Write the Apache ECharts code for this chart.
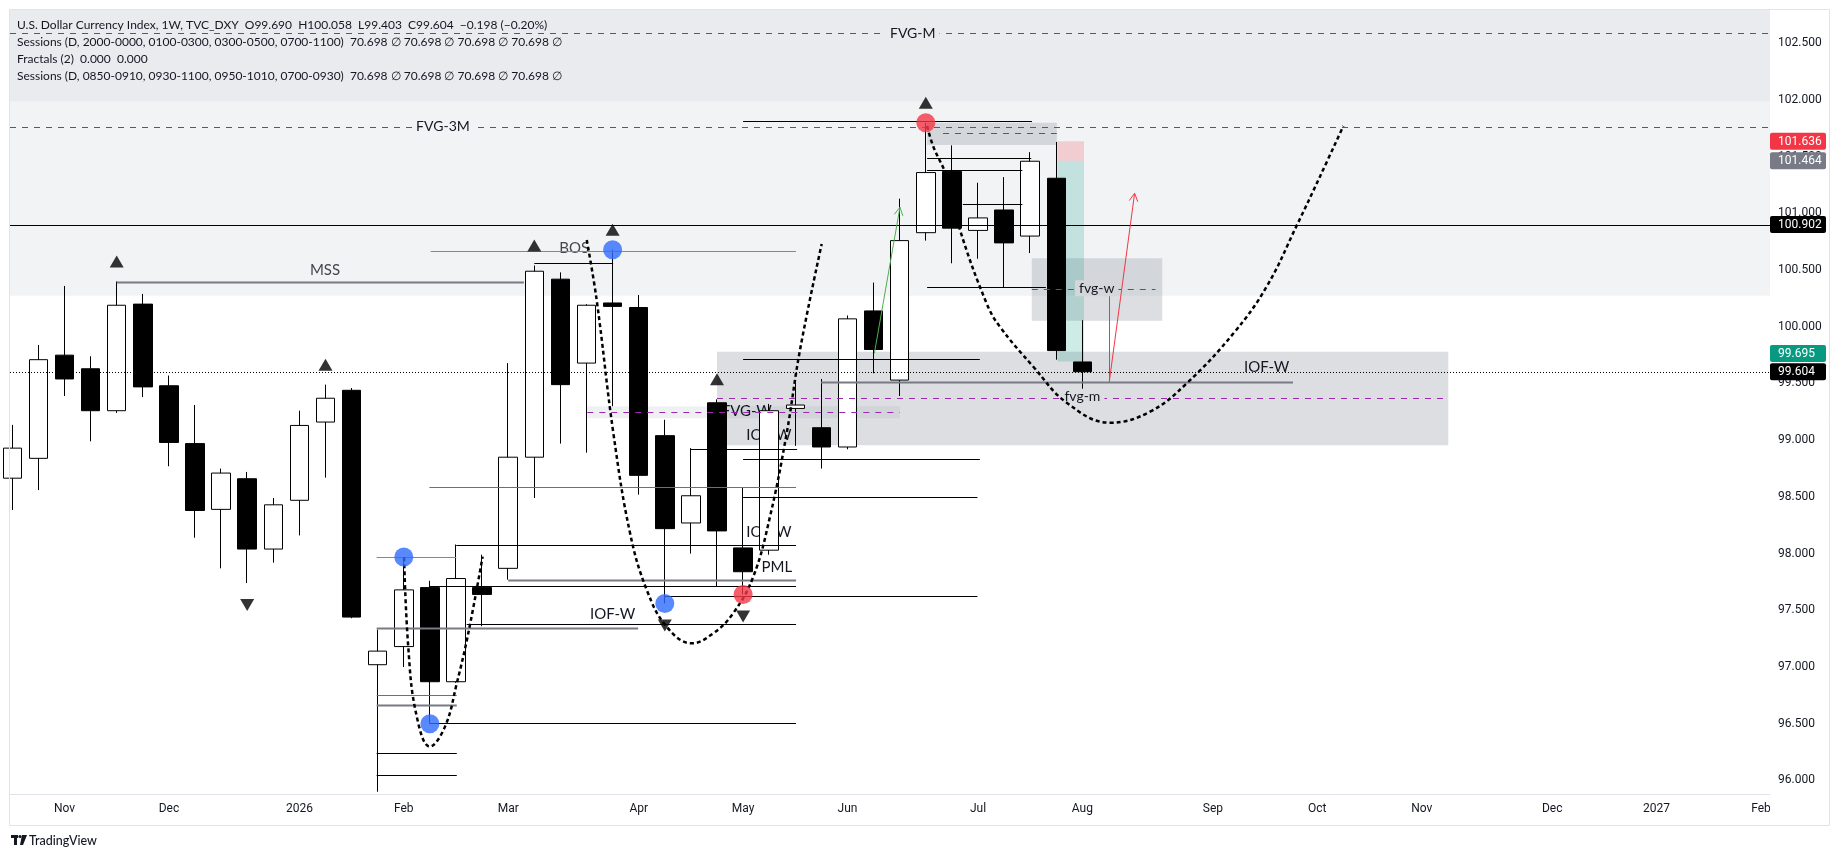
<!DOCTYPE html>
<html><head><meta charset="utf-8">
<script src="https://cdn.jsdelivr.net/npm/echarts@6/dist/echarts.min.js"></script>
<style>html,body{margin:0;padding:0;background:#fff;}#c{width:1840px;height:858px;}</style>
</head><body><div id="c"></div><script>
// ---------- data (week index 0 = 2025-10-20) ----------
const weeks = ['2025-10-20','2025-10-27','2025-11-03','2025-11-10','2025-11-17','2025-11-24','2025-12-01','2025-12-08','2025-12-15','2025-12-22','2025-12-29','2026-01-05','2026-01-12','2026-01-19','2026-01-26','2026-02-02','2026-02-09','2026-02-16','2026-02-23','2026-03-02','2026-03-09','2026-03-16','2026-03-23','2026-03-30','2026-04-06','2026-04-13','2026-04-20','2026-04-27','2026-05-04','2026-05-11','2026-05-18','2026-05-25','2026-06-01','2026-06-08','2026-06-15','2026-06-22','2026-06-29','2026-07-06','2026-07-13','2026-07-20','2026-07-27','2026-08-03'];
const opens  = [98.665,98.84,99.75,99.63,99.26,100.20,99.48,98.97,98.39,98.66,98.04,98.47,99.16,99.44,97.02,97.18,97.70,96.87,97.70,97.87,98.85,100.42,99.68,100.21,100.17,99.04,98.27,99.33,98.05,98.03,99.28,99.11,98.94,100.14,99.53,100.83,101.37,100.85,101.03,100.80,101.31,99.690];
const highs  = [99.135,99.84,100.36,99.74,100.40,100.29,99.57,99.31,98.75,98.72,98.49,99.26,99.49,99.46,97.33,97.97,97.76,98.08,97.99,99.68,100.54,100.48,100.20,100.68,100.28,99.18,98.93,99.36,98.58,99.32,99.51,99.54,100.10,100.39,101.13,101.80,101.60,101.27,101.32,101.54,101.63,100.058];
const lows   = [98.385,98.56,99.39,98.99,99.24,99.38,98.77,98.14,97.87,97.74,97.92,98.16,98.67,97.43,95.90,97.00,96.50,96.86,97.36,97.77,98.49,98.97,98.89,99.30,98.52,97.56,98.00,97.71,97.64,97.99,98.95,98.75,98.92,99.59,99.39,100.76,100.56,100.60,100.35,100.65,99.71,99.403];
const closes = [98.93,99.71,99.54,99.26,100.19,99.47,98.98,98.38,98.71,98.04,98.43,99.13,99.37,97.44,97.14,97.68,96.87,97.78,97.64,98.85,100.49,99.49,100.19,100.18,98.69,98.22,98.51,98.20,97.84,99.26,99.31,98.94,100.07,99.80,100.76,101.36,100.87,100.96,100.74,101.46,99.79,99.604];

const monthIdx    = [2,6,11,15,19,24,28,32,37,41,46,50,54,59,63,67];
const monthLabels = ['Nov','Dec','2026','Feb','Mar','Apr','May','Jun','Jul','Aug','Sep','Oct','Nov','Dec','2027','Feb'];
const yTicks = [96,96.5,97,97.5,98,98.5,99,99.5,100,100.5,101,101.5,102,102.5];

const fractalUp   = [4,12,20,23,27,35];
const fractalDown = [9,25,28];
const blueDotsHigh = [15,23];
const blueDotsLow  = [16,25];
const redDotsHigh  = [35];
const redDotsLow   = [28];

const XMIN = -0.0881, XMAX = 67.345, YMIN = 95.8755, YMAX = 102.8025;

// boxes: [x1, x2, priceTop, priceBottom]
const darkBands  = [[XMIN, XMAX, YMAX, 101.985]];
const lightBands = [[XMIN, XMAX, 101.985, 100.274]];
const grayBoxes  = [[35.05,40.02,101.80,101.603],[27.0,55.02,99.78,98.955],[39.06,44.06,100.604,100.054]];
const faintBoxes = [[22.03,34.0,99.30,99.193]];
const tealBoxes  = [[40.04,41.06,101.464,99.695]];
const pinkBoxes  = [[40.04,41.06,101.636,101.464]];

// segments: [x1, p1, x2, p2]
const blackLines = [
  [XMIN,100.902,XMAX,100.902],[20,100.56,23.02,100.56],[17.01,98.077,30.03,98.077],[17.41,97.376,30.03,97.376],
  [16.0,96.504,30.03,96.504],[13.96,96.239,17.03,96.239],[13.96,96.045,17.03,96.045],[16.0,97.713,30.03,97.713],
  [25.0,97.63,36.98,97.63],[28.0,99.713,37.07,99.713],[28.0,98.832,37.07,98.832],[28.0,98.497,36.98,98.497],
  [26.0,98.92,30.07,98.92],[28.0,101.817,39.07,101.817],[35.05,101.492,39.04,101.492],[35.05,101.383,38.7,101.383],
  [36.42,101.08,38.7,101.08],[35.05,100.348,39.6,100.348]
];
const grayLines = [[4,100.396,19.6,100.396],[13.96,97.347,23.98,97.347],[13.96,96.666,17.03,96.666],[19.0,97.768,30.03,97.768],[30.99,99.513,49.07,99.513]];
const redLines = [[15.98,98.586,30.03,98.586],[13.96,96.754,17.03,96.754],[42.03,100.31,42.03,99.515]];
const greenLines = [[16.03,100.669,30.03,100.669],[13.96,97.968,17.01,97.968]];
const purpleLines = [[XMIN,102.589,XMAX,102.589],[XMIN,101.765,XMAX,101.765],[35.66,101.707,40.02,101.707],[39.06,100.332,43.8,100.332],[22.03,99.249,34.0,99.249],[27.0,99.375,55.02,99.375]];
const priceLine = [[XMIN,99.604,XMAX,99.604]];
const redArrows = [[42.03,99.515,43.0,101.177]];
const greenArrows = [[33.03,99.766,34.01,101.054]];

// dotted projection curves: [week index, price]
const curveA = [[15.01,97.967],[15.17,97.179],[15.47,96.592],[16.0,96.297],[16.58,96.474],[17.03,96.856],[17.47,97.297],[18.02,97.973]];
const curveB = [[22.01,100.766],[22.39,100.236],[23.03,99.061],[23.67,98.179],[24.31,97.679],[25.07,97.355],[26.03,97.209],[26.86,97.297],[27.62,97.474],[28.39,97.796],[29.03,98.325],[29.67,99.061],[30.18,99.796],[31.01,100.73]];
const curveC = [[35.05,101.77],[35.29,101.588],[35.8,101.324],[36.31,100.854],[37.33,100.207],[37.84,100.0],[39.12,99.648],[40.4,99.33],[42.06,99.154],[43.59,99.251],[45.0,99.502],[46.79,99.943],[48.06,100.354],[49.21,100.892],[50.1,101.324],[51.0,101.771]];

// text labels: [week index, price, text]
const grayTexts = [[11.98,100.50,'MSS'],[21.53,100.69,'BOS']];
const darkTexts = [[23.0,97.465,'IOF-W'],[28.14,99.26,'FVG-W'],[28.99,99.046,'IOF-W'],[28.99,98.193,'IOF-W'],[29.29,97.884,'PML'],[48.06,99.64,'IOF-W']];
const tagTexts = [[34.5,102.589,'FVG-M'],[16.5,101.765,'FVG-3M'],[41.0,99.384,'fvg-m'],[41.55,100.34,'fvg-w']];
const tagTextBg = ['#eaebef','#f2f3f5','#dcdee2','#d4d6d9'];

const priceTags = [101.636,101.464,100.902,99.695,99.604];
const priceTagColors = ['#f23645','#787b86','#000000','#089981','#000000'];
const priceTagShift = [0,0,0,-8,0];

const legendLines = [
  'U.S. Dollar Currency Index, 1W, TVC_DXY  O99.690  H100.058  L99.403  C99.604  \u22120.198 (\u22120.20%)',
  'Sessions (D, 2000-0000, 0100-0300, 0300-0500, 0700-1100)  70.698 \u2205 70.698 \u2205 70.698 \u2205 70.698 \u2205',
  'Fractals (2)  0.000  0.000',
  'Sessions (D, 0850-0910, 0930-1100, 0950-1010, 0700-0930)  70.698 \u2205 70.698 \u2205 70.698 \u2205 70.698 \u2205'
];

// ---------- helpers ----------
const crisp = v => Math.round(v) + 0.5;
function boxSeries(arr, fill, z) {
  return { type:'custom', z, silent:true, animation:false, clip:false,
    data: arr.map(d => [d[0], d[2]]),
    renderItem(params, api) {
      const d = arr[params.dataIndex];
      const a = api.coord([d[0], d[2]]), b = api.coord([d[1], d[3]]);
      return { type:'rect', shape:{ x:a[0], y:a[1], width:b[0]-a[0], height:b[1]-a[1] }, style:{ fill } };
    } };
}
function segSeries(arr, style, z) {
  return { type:'custom', z, silent:true, animation:false, clip:false,
    data: arr.map(d => [d[0], d[1]]),
    renderItem(params, api) {
      const d = arr[params.dataIndex];
      const a = api.coord([d[0], d[1]]), b = api.coord([d[2], d[3]]);
      let x1=a[0], y1=a[1], x2=b[0], y2=b[1];
      if (Math.abs(y1-y2) < 0.01) { y1 = y2 = crisp(y1); }
      if (Math.abs(x1-x2) < 0.01) { x1 = x2 = crisp(x1); }
      return { type:'line', shape:{ x1, y1, x2, y2 }, style: Object.assign({ fill:null }, style) };
    } };
}
function arrowSeries(arr, color, z) {
  return { type:'custom', z, silent:true, animation:false, clip:false,
    data: arr.map(d => [d[0], d[1]]),
    renderItem(params, api) {
      const d = arr[params.dataIndex];
      const a = api.coord([d[0], d[1]]), b = api.coord([d[2], d[3]]);
      const ang = Math.atan2(b[1]-a[1], b[0]-a[0]);
      const L = 9, w = 0.5;
      const p1 = [b[0]-L*Math.cos(ang-w), b[1]-L*Math.sin(ang-w)];
      const p2 = [b[0]-L*Math.cos(ang+w), b[1]-L*Math.sin(ang+w)];
      return { type:'group', children:[
        { type:'line', shape:{ x1:a[0], y1:a[1], x2:b[0], y2:b[1] }, style:{ stroke:color, lineWidth:1 } },
        { type:'polyline', shape:{ points:[p1, b, p2] }, style:{ stroke:color, lineWidth:1, fill:null } }
      ] };
    } };
}
function textSeries(arr, color, size, z, bgs) {
  return { type:'custom', z, silent:true, animation:false, clip:false,
    data: arr.map(d => [d[0], d[1]]),
    renderItem(params, api) {
      const d = arr[params.dataIndex];
      const p = api.coord([d[0], d[1]]);
      const st = { text:d[2], fill:color, fontSize:size, fontFamily:'Lato, "Noto Sans", sans-serif', align:'center', verticalAlign:'middle' };
      if (bgs) { st.backgroundColor = bgs[params.dataIndex]; st.padding = [1,4]; }
      return { type:'text', x:p[0], y:p[1], style: st };
    } };
}
function curveSeries(pts) {
  return { type:'line', data:pts, smooth:0.4, showSymbol:false, symbol:'none', z:6, silent:true, animation:false, clip:false,
    lineStyle:{ color:'#000', width:2.5, type:[4,3] } };
}

const candleData = closes.map((c,i) => [i, opens[i], c, lows[i], highs[i]]);
const legendFont = { fill:'#131722', fontSize:12, fontFamily:'Lato, sans-serif', verticalAlign:'middle' };

const chart = echarts.init(document.getElementById('c'), null, { renderer:'canvas' });
chart.setOption({
  animation:false,
  backgroundColor:'#ffffff',
  grid:{ left:10, right:70, top:9, bottom:63.5, containLabel:false },
  xAxis:{ type:'value', min:XMIN, max:XMAX, scale:true,
    axisLine:{ show:true, lineStyle:{ color:'#e0e3eb' } }, axisTick:{ show:false }, splitLine:{ show:false },
    axisLabel:{ customValues: monthIdx, margin:8, color:'#131722', fontSize:12, fontFamily:'Roboto, sans-serif',
      formatter: v => monthLabels[monthIdx.indexOf(Math.round(v))] || '' } },
  yAxis:{ type:'value', position:'right', min:YMIN, max:YMAX, scale:true,
    axisLine:{ show:false }, axisTick:{ show:false }, splitLine:{ show:false },
    axisLabel:{ customValues: yTicks, margin:8, color:'#131722', fontSize:12, fontFamily:'Roboto, sans-serif',
      formatter: v => Number(v).toFixed(3) } },
  series:[
    boxSeries(darkBands, '#eaebef', 1),
    boxSeries(lightBands, '#f2f3f5', 1),
    boxSeries(faintBoxes, 'rgba(150,155,168,0.15)', 1.2),
    boxSeries(grayBoxes, 'rgba(150,155,168,0.33)', 1.3),
    boxSeries(tealBoxes, 'rgba(8,153,129,0.2)', 1.4),
    boxSeries(pinkBoxes, 'rgba(242,54,69,0.2)', 1.4),
    textSeries(grayTexts, '#434651', 15, 2),
    textSeries(darkTexts, '#131722', 15, 2),
    { type:'candlestick', data:candleData, barWidth:19, z:3, animation:false, clip:true,
      itemStyle:{ color:'#ffffff', color0:'#000000', borderColor:'#000000', borderColor0:'#000000', borderWidth:1 } },
    segSeries(blackLines, { stroke:'#000', lineWidth:1 }, 4),
    segSeries(grayLines, { stroke:'#787b86', lineWidth:2 }, 4),
    segSeries(redLines, { stroke:'#f23645', lineWidth:1 }, 4),
    segSeries(greenLines, { stroke:'#4caf50', lineWidth:1 }, 4),
    segSeries(purpleLines, { stroke:'#9c27b0', lineWidth:1, lineDash:[6,6] }, 4),
    segSeries(priceLine, { stroke:'#000', lineWidth:1, lineDash:[1,2] }, 4),
    textSeries(tagTexts, '#131722', 14, 4.5, tagTextBg),
    arrowSeries(redArrows, '#f23645', 5),
    arrowSeries(greenArrows, '#4caf50', 5),
    curveSeries(curveA), curveSeries(curveB), curveSeries(curveC),
    { type:'scatter', symbol:'triangle', symbolSize:[14,12], symbolOffset:[0,-20], z:7, silent:true, animation:false,
      itemStyle:{ color:'#000' }, data: fractalUp.map(i => [i, highs[i]]) },
    { type:'scatter', symbol:'triangle', symbolSize:[14,12], symbolOffset:[0,22], symbolRotate:180, z:7, silent:true, animation:false,
      itemStyle:{ color:'#000' }, data: fractalDown.map(i => [i, lows[i]]) },
    { type:'scatter', symbolSize:19, z:8, silent:true, animation:false, itemStyle:{ color:'#2f6bff' },
      data: blueDotsHigh.map(i => [i, highs[i]]).concat(blueDotsLow.map(i => [i, lows[i]])) },
    { type:'scatter', symbolSize:19, z:8, silent:true, animation:false, itemStyle:{ color:'#f23645' },
      data: redDotsHigh.map(i => [i, highs[i]]).concat(redDotsLow.map(i => [i, lows[i]])) },
    { type:'custom', z:20, silent:true, animation:false, clip:false,
      data: priceTags.map(v => [XMAX, v]),
      renderItem(params, api) {
        const i = params.dataIndex, v = priceTags[i];
        const p = api.coord([XMAX, v]);
        const y = p[1] + priceTagShift[i];
        return { type:'group', children:[
          { type:'rect', shape:{ x:p[0], y:y-8.5, width:56, height:17, r:2 }, style:{ fill: priceTagColors[i] } },
          { type:'text', x:p[0]+8, y:y+0.5, style:{ text:v.toFixed(3), fill:'#ffffff', fontSize:12, fontFamily:'Roboto, sans-serif', verticalAlign:'middle', align:'left' } }
        ] };
      } }
  ],
  graphic:[
    { type:'rect', z:100, silent:true, shape:{ x:1770, y:797, width:60, height:26 }, style:{ fill:'#ffffff' } },
    { type:'rect', z:100, silent:true, shape:{ x:9.5, y:9.5, width:1820, height:816 }, style:{ fill:null, stroke:'#e0e3eb', lineWidth:1 } },
    { type:'text', z:100, silent:true, x:17, y:25.5, style:Object.assign({ text:legendLines[0] }, legendFont) },
    { type:'text', z:100, silent:true, x:17, y:42.3, style:Object.assign({ text:legendLines[1] }, legendFont) },
    { type:'text', z:100, silent:true, x:17, y:59, style:Object.assign({ text:legendLines[2] }, legendFont) },
    { type:'text', z:100, silent:true, x:17, y:75.7, style:Object.assign({ text:legendLines[3] }, legendFont) },
    { type:'rect', z:100, silent:true, shape:{ x:11, y:835, width:7, height:3 }, style:{ fill:'#131722' } },
    { type:'rect', z:100, silent:true, shape:{ x:14, y:835, width:3, height:10 }, style:{ fill:'#131722' } },
    { type:'circle', z:100, silent:true, shape:{ cx:20, cy:836.5, r:1.6 }, style:{ fill:'#131722' } },
    { type:'polygon', z:100, silent:true, shape:{ points:[[22,835],[27,835],[23,845],[20,845]] }, style:{ fill:'#131722' } },
    { type:'text', z:100, silent:true, x:29, y:840.5, style:{ text:'TradingView', fill:'#131722', fontSize:12.5, fontWeight:500, fontFamily:'Lato, sans-serif', verticalAlign:'middle' } }
  ]
});
</script></body></html>
